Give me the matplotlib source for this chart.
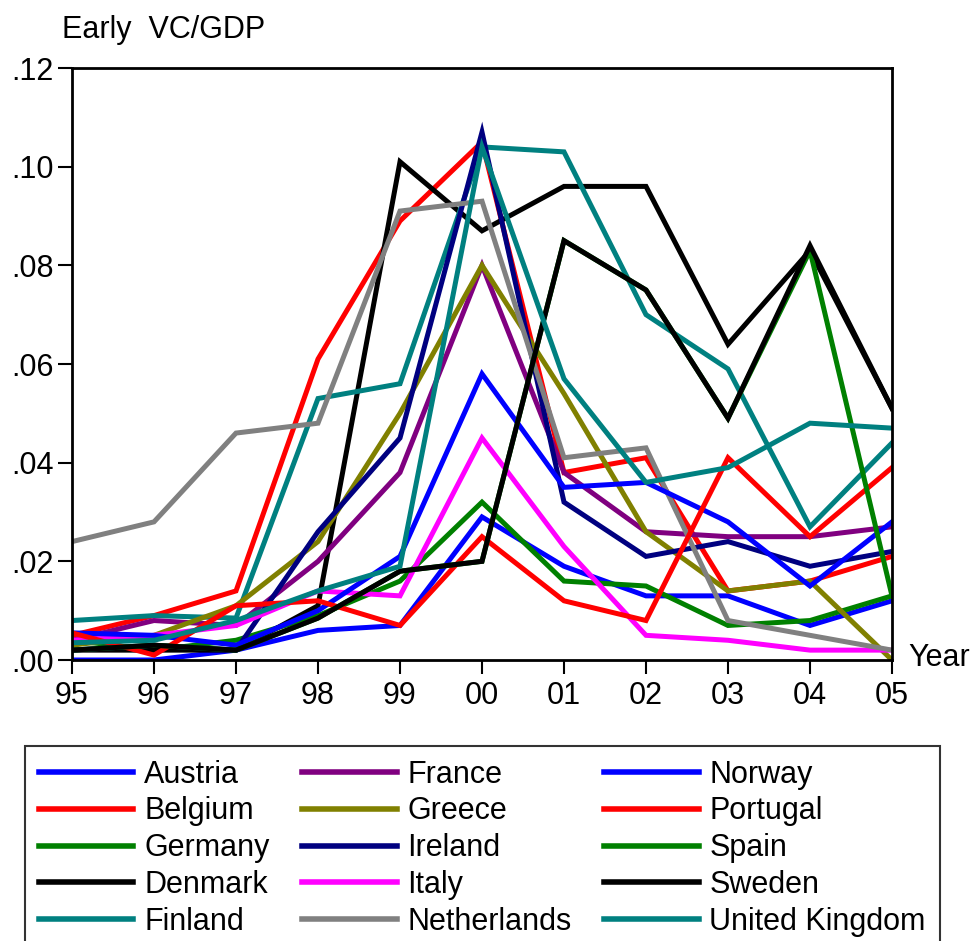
import matplotlib
matplotlib.use("Agg")
import matplotlib.pyplot as plt

plt.rcParams['font.family'] = ['Liberation Sans', 'DejaVu Sans']

years = ["95", "96", "97", "98", "99", "00", "01", "02", "03", "04", "05"]

austria = [0.000, 0.000, 0.002, 0.006, 0.007, 0.029, 0.019, 0.013, 0.013, 0.007, 0.012]
belgium = [0.005, 0.009, 0.014, 0.061, 0.089, 0.105, 0.038, 0.041, 0.014, 0.016, 0.021]
germany = [0.004, 0.002, 0.004, 0.009, 0.016, 0.032, 0.016, 0.015, 0.007, 0.008, 0.013]
denmark = [0.002, 0.002, 0.002, 0.011, 0.101, 0.087, 0.096, 0.096, 0.064, 0.083, 0.051]
finland = [0.008, 0.009, 0.0085, 0.053, 0.056, 0.104, 0.103, 0.070, 0.059, 0.027, 0.044]
france = [0.004, 0.008, 0.007, 0.020, 0.038, 0.080, 0.038, 0.026, 0.025, 0.025, 0.027]
greece = [0.003, 0.005, 0.011, 0.024, 0.050, 0.080, 0.054, 0.026, 0.014, 0.016, 0.000]
ireland = [0.002, 0.003, 0.002, 0.026, 0.045, 0.107, 0.032, 0.021, 0.024, 0.019, 0.022]
italy = [0.004, 0.005, 0.007, 0.014, 0.013, 0.045, 0.023, 0.005, 0.004, 0.002, 0.002]
netherlands = [0.024, 0.028, 0.046, 0.048, 0.091, 0.093, 0.041, 0.043, 0.008, 0.005, 0.002]
norway = [0.0055, 0.005, 0.003, 0.010, 0.021, 0.058, 0.035, 0.036, 0.028, 0.015, 0.028]
portugal = [0.0055, 0.001, 0.011, 0.012, 0.007, 0.025, 0.012, 0.008, 0.041, 0.025, 0.039]
spain = [0.002, 0.003, 0.002, 0.0085, 0.018, 0.020, 0.085, 0.075, 0.049, 0.083, 0.013]
sweden = [0.002, 0.003, 0.002, 0.0085, 0.018, 0.020, 0.085, 0.075, 0.049, 0.084, 0.051]
uk = [0.0035, 0.004, 0.008, 0.014, 0.019, 0.104, 0.057, 0.036, 0.039, 0.048, 0.047]

names = ["Austria", "Belgium", "Germany", "Denmark", "Finland",
         "France", "Greece", "Ireland", "Italy", "Netherlands",
         "Norway", "Portugal", "Spain", "Sweden", "United Kingdom"]
series = [austria, belgium, germany, denmark, finland,
          france, greece, ireland, italy, netherlands,
          norway, portugal, spain, sweden, uk]
colors = ["#0000FF", "#FF0000", "#008000", "#000000", "#008080",
          "#800080", "#808000", "#000080", "#FF00FF", "#808080",
          "#0000FF", "#FF0000", "#008000", "#000000", "#008080"]

fig = plt.figure(figsize=(9.78, 9.41), dpi=100)
ax = fig.add_axes([72/978, 1-660/941, 820/978, 592/941])

x = list(range(len(years)))
for vals, name, c in zip(series, names, colors):
    ax.plot(x, vals, color=c, lw=3.6, label=name, solid_joinstyle='miter')

ax.set_xlim(0, len(years)-1)
ax.set_ylim(0, 0.12)
ax.set_xticks(x)
ax.set_xticklabels(years)
yt = [0.00, 0.02, 0.04, 0.06, 0.08, 0.10, 0.12]
ax.set_yticks(yt)
ax.set_yticklabels([("%.2f" % v)[1:] for v in yt])
ax.tick_params(axis='both', direction='out', length=10, width=1.5,
               labelsize=22, colors='black')
ax.tick_params(axis='x', pad=5)
ax.tick_params(axis='y', pad=3)
for s in ax.spines.values():
    s.set_linewidth(2)

fig.text(62/978, 1-30/941, "Early  VC/GDP", fontsize=22, va='center', ha='left')
fig.text(908/978, 1-658/941, "Year", fontsize=22, va='center', ha='left')

leg = fig.legend(loc='upper left', bbox_to_anchor=(25/978, 1-746/941),
                 ncol=3, fontsize=22, frameon=True, fancybox=False,
                 edgecolor='black', handlelength=3.1, handletextpad=0.35,
                 columnspacing=1.06, labelspacing=0.22, borderpad=0.45,
                 borderaxespad=0)
leg.get_frame().set_linewidth(1.5)
for h in leg.get_lines():
    h.set_linewidth(4)

fig.savefig("out.png", dpi=100)
